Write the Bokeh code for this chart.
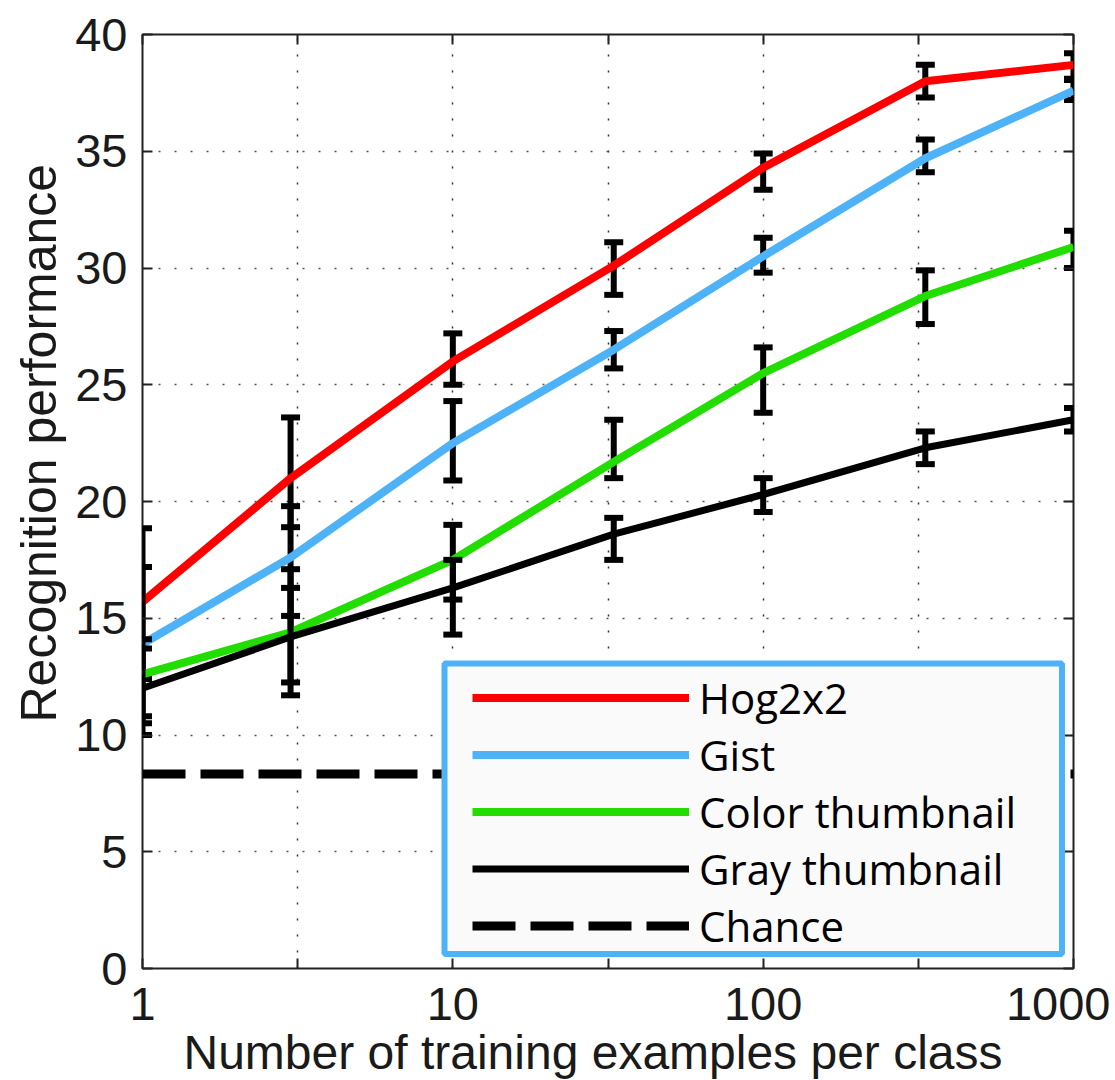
from bokeh.plotting import figure
from bokeh.models import (Range1d, FixedTicker, LinearAxis, LogAxis, Legend, LegendItem,
                          BoxAnnotation, Title, BasicTickFormatter, CustomJSTickFormatter)
from bokeh.embed import file_html
from bokeh.resources import INLINE

# ---------------- data ----------------
examples = [1, 3, 10, 33, 100, 333, 1000]

hog_mean = [15.7, 21.0, 26.0, 30.1, 34.3, 38.0, 38.7]
hog_upper = [18.85, 23.6, 27.2, 31.1, 34.9, 38.7, 39.2]
hog_lower = [12.4, 18.9, 25.0, 28.85, 33.35, 37.3, 38.1]

gist_mean = [13.9, 17.6, 22.5, 26.5, 30.5, 34.7, 37.6]
gist_upper = [17.2, 19.8, 24.3, 27.3, 31.3, 35.5, 38.05]
gist_lower = [10.5, 15.1, 20.9, 25.7, 29.8, 34.1, 37.2]

color_mean = [12.6, 14.4, 17.5, 21.7, 25.5, 28.8, 30.9]
color_upper = [14.1, 17.1, 19.0, 23.5, 26.6, 29.9, 31.6]
color_lower = [10.8, 11.7, 15.8, 21.0, 23.8, 27.6, 30.0]

gray_mean = [12.0, 14.2, 16.3, 18.6, 20.3, 22.3, 23.5]
gray_upper = [13.7, 16.3, 17.5, 19.3, 21.0, 23.0, 24.0]
gray_lower = [10.0, 12.25, 14.3, 17.5, 19.55, 21.6, 23.0]

chance = 8.33

series_names = ["Hog2x2", "Gist", "Color thumbnail", "Gray thumbnail"]
chance_name = "Chance"

y_ticks = [0, 5, 10, 15, 20, 25, 30, 35, 40]
x_major_ticks = [1, 10, 100, 1000]
x_tick_labels = ["1", "10", "100", "1000"]
x_minor_ticks = [10 ** 0.5, 10 ** 1.5, 10 ** 2.5]

x_title = "Number of training examples per class"
y_title = "Recognition performance"

# ---------------- styles ----------------
RED = "#ff0000"
BLUE = "#4db2f7"
GREEN = "#22dd00"
BLACK = "#000000"
TICK_FONT = "Liberation Sans"
LEGEND_FONT = "Open Sans"

p = figure(width=1110, height=1080, x_axis_type="log",
           x_range=Range1d(1, 1000), y_range=Range1d(0, 40),
           output_backend="svg", toolbar_location=None,
           min_border_left=142, min_border_right=37,
           min_border_top=34, min_border_bottom=112)
p.background_fill_color = "white"
p.border_fill_color = "white"
p.outline_line_color = "#222222"
p.outline_line_width = 2

# axes
xax = p.xaxis[0]
xax.ticker = FixedTicker(ticks=x_major_ticks, minor_ticks=x_minor_ticks)
xax.formatter = BasicTickFormatter()
xax.major_label_overrides = dict(zip(x_major_ticks, x_tick_labels))
yax = p.yaxis[0]
yax.ticker = FixedTicker(ticks=y_ticks)

for ax in (xax, yax):
    ax.axis_line_color = None
    ax.major_tick_in = 10
    ax.major_tick_out = 0
    ax.minor_tick_in = 10
    ax.minor_tick_out = 0
    ax.major_tick_line_color = "#222222"
    ax.minor_tick_line_color = "#222222"
    ax.major_tick_line_width = 2
    ax.minor_tick_line_width = 2
    ax.major_label_text_font = TICK_FONT
    ax.major_label_text_font_size = "47px"
    ax.major_label_text_color = "#1a1a1a"
yax.minor_tick_line_color = None
xax.major_label_standoff = 19
yax.major_label_standoff = 15

# axis titles as side titles, offset like the reference
p.add_layout(Title(text=x_title, align="left", offset=41, standoff=2,
                   text_font=TICK_FONT, text_font_size="48px",
                   text_font_style="normal", text_color="#1a1a1a"), "below")
p.add_layout(Title(text=y_title, align="left", offset=246, standoff=12,
                   text_font=TICK_FONT, text_font_size="50px",
                   text_font_style="normal", text_color="#1a1a1a"), "left")

blank = CustomJSTickFormatter(code="return ''")
ax_r = LinearAxis(ticker=FixedTicker(ticks=y_ticks), formatter=blank,
                  major_label_standoff=0, major_tick_in=10, major_tick_out=0,
                  major_tick_line_width=2, major_tick_line_color="#222222",
                  minor_tick_line_color=None, axis_line_color=None)
p.add_layout(ax_r, "right")
ax_t = LogAxis(ticker=FixedTicker(ticks=x_major_ticks, minor_ticks=x_minor_ticks),
               formatter=CustomJSTickFormatter(code="return ''"), major_label_standoff=0,
               major_tick_in=10, major_tick_out=0, minor_tick_in=10, minor_tick_out=0,
               major_tick_line_width=2, minor_tick_line_width=2,
               major_tick_line_color="#222222", minor_tick_line_color="#222222",
               axis_line_color=None)
p.add_layout(ax_t, "above")

# dotted grid
p.xgrid.grid_line_color = "#333333"
p.xgrid.grid_line_width = 1.5
p.xgrid.grid_line_dash = "2 14"
p.xgrid.minor_grid_line_color = "#333333"
p.xgrid.minor_grid_line_width = 1.5
p.xgrid.minor_grid_line_dash = "2 14"
p.ygrid.grid_line_color = "#555555"
p.ygrid.grid_line_width = 1.5
p.ygrid.grid_line_dash = "2 14"

# chance line
r_chance = p.line(examples, [chance] * len(examples), line_color=BLACK,
                  line_width=9, line_dash="43 15")

# series with error bars
series = [
    (hog_mean, hog_lower, hog_upper, RED, 8),
    (gist_mean, gist_lower, gist_upper, BLUE, 8),
    (color_mean, color_lower, color_upper, GREEN, 8),
    (gray_mean, gray_lower, gray_upper, BLACK, 7),
]
line_renderers = []
for mean, lower, upper, col, lw in series:
    p.segment(x0=examples, y0=lower, x1=examples, y1=upper,
              line_color=BLACK, line_width=6)
    p.scatter(x=examples, y=upper, marker="dash", size=19, line_width=6, line_color=BLACK)
    p.scatter(x=examples, y=lower, marker="dash", size=19, line_width=6, line_color=BLACK)
    r = p.line(examples, mean, line_color=col, line_width=lw, line_join="round")
    line_renderers.append(r)

# legend frame
box = BoxAnnotation(left=9.40, right=918, bottom=0.626, top=13.06,
                    fill_color="#fafafa", fill_alpha=1.0,
                    line_color=BLUE, line_alpha=1.0, line_width=6)
p.add_layout(box)

items = [LegendItem(label=n, renderers=[r]) for n, r in zip(series_names, line_renderers)]
items.append(LegendItem(label=chance_name, renderers=[r_chance]))
legend = Legend(items=items, location=(330, 14), margin=0, padding=0, spacing=0,
                glyph_width=217, glyph_height=57, label_height=57, label_standoff=10,
                label_text_font=LEGEND_FONT, label_text_font_size="42px",
                label_text_color=BLACK, background_fill_alpha=0,
                border_line_alpha=0)
p.add_layout(legend, "center")

open("out.html", "w").write(file_html(p, INLINE))
